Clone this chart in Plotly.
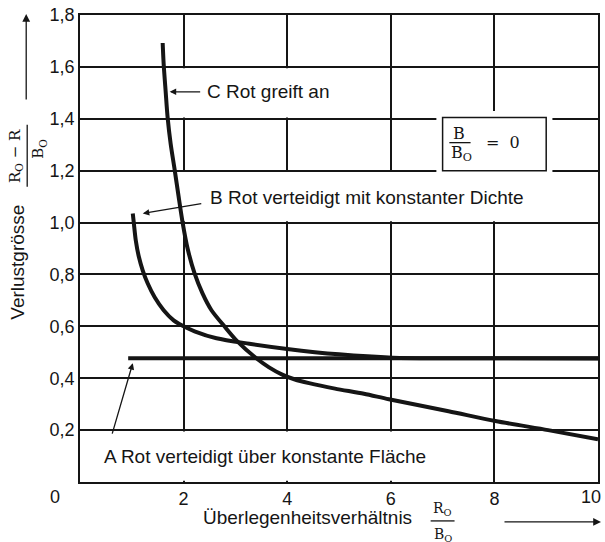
import plotly.graph_objects as go

# ---- data ----
a_x = [0.93, 10.0]
a_y = [0.477, 0.477]

b_x = [1.019, 1.038, 1.077, 1.135, 1.212, 1.308, 1.442, 1.615, 1.808, 1.981, 2.212, 2.635, 3.269, 4.00, 5.00, 6.038, 7.115, 10.0]
b_y = [1.035, 1.000, 0.931, 0.869, 0.815, 0.765, 0.712, 0.662, 0.623, 0.602, 0.581, 0.554, 0.533, 0.513, 0.492, 0.479, 0.477, 0.476]

c_x = [1.596, 1.615, 1.654, 1.692, 1.750, 1.827, 1.904, 1.981, 2.077, 2.212, 2.365, 2.538, 2.788, 3.038, 3.404, 3.650, 3.904, 4.150, 4.423, 4.923, 5.481, 5.962, 7.115, 8.019, 9.038, 10.0]
c_y = [1.692, 1.612, 1.504, 1.404, 1.304, 1.204, 1.100, 1.000, 0.900, 0.804, 0.727, 0.662, 0.600, 0.542, 0.477, 0.442, 0.414, 0.395, 0.381, 0.360, 0.340, 0.319, 0.273, 0.235, 0.200, 0.165]

x_ticks = [2, 4, 6, 8, 10]
x_labels = ["2", "4", "6", "8", ""]
y_ticks = [0.2, 0.4, 0.6, 0.8, 1.0, 1.2, 1.4, 1.6, 1.8]
y_labels = ["0,2", "0,4", "0,6", "0,8", "1,0", "1,2", "1,4", "1,6", "1,8"]

label_a = "A Rot verteidigt über konstante Fläche"
label_b = "B Rot verteidigt mit konstanter Dichte"
label_c = "C Rot greift an"

INK = "#151515"
SANS = "Liberation Sans, Arial, sans-serif"
SERIF = "DejaVu Serif, serif"

fig = go.Figure()
for xs, ys in [(a_x, a_y), (b_x, b_y), (c_x, c_y)]:
    fig.add_trace(go.Scatter(x=xs, y=ys, mode="lines",
                             line=dict(color=INK, width=4, shape="spline", smoothing=0.8),
                             hoverinfo="skip", showlegend=False))

# white masks that interrupt the grid behind labels
masks = [
    (1.80, 5.50, 1.405, 1.595),
    (1.95, 9.97, 1.005, 1.195),
    (0.03, 7.50, 0.005, 0.195),
    (6.88, 9.12, 1.195, 1.43),
]
for x0, x1, y0, y1 in masks:
    fig.add_shape(type="rect", x0=x0, x1=x1, y0=y0, y1=y1, xref="x", yref="y",
                  fillcolor="white", line=dict(width=0), layer="between")
# boxed legend B/B0 = 0
fig.add_shape(type="rect", x0=7.0, x1=9.0, y0=1.2, y1=1.405, xref="x", yref="y",
              fillcolor="white", line=dict(color=INK, width=1.5), layer="between")

ann = []
def txt(x, y, t, xref="x", yref="y", xa="left", ya="middle", size=19, font=SANS, angle=0):
    ann.append(dict(x=x, y=y, xref=xref, yref=yref, text=t, showarrow=False,
                    xanchor=xa, yanchor=ya, textangle=angle,
                    font=dict(family=font, size=size, color=INK)))

def arrow(x, y, ax, ay, xref="x", yref="y", size=1.0):
    ann.append(dict(x=x, y=y, xref=xref, yref=yref, text="", showarrow=True,
                    ax=ax, ay=ay, arrowhead=2, arrowsize=size, arrowwidth=1.3,
                    arrowcolor=INK, standoff=0, startstandoff=0))

# curve labels
txt(2.404, 1.504, label_c)
arrow(1.731, 1.504, 32, 0)
txt(2.462, 1.096, label_b)
arrow(1.212, 1.035, 60, -10)
txt(0.423, 0.100, label_a)
arrow(1.019, 0.458, -21, 72)

# box text
txt(7.32, 1.345, "B", xa="center", font=SERIF, size=16)
txt(7.36, 1.265, "B<sub>O</sub>", xa="center", font=SERIF, size=16)
fig.add_shape(type="line", x0=7.13, x1=7.54, y0=1.308, y1=1.308, xref="x", yref="y",
              line=dict(color=INK, width=1.3))
txt(8.16, 1.31, "=  0", xa="center", font=SERIF, size=16)

def px_x(p):
    return (p - 80) / 520
def px_y(p):
    return (482 - p) / 468

# origin "0" and the shifted "10"
txt(px_x(55), px_y(497), "0", xref="paper", yref="paper", xa="center", size=18)
txt(px_x(593), px_y(497), "10", xref="paper", yref="paper", xa="center", size=18)

# y-axis title
txt(px_x(17), px_y(262), "Verlustgrösse", xref="paper", yref="paper", xa="center", angle=-90)
txt(px_x(15), px_y(155), "R<sub>O</sub> − R", xref="paper", yref="paper", xa="center",
    font=SERIF, size=15, angle=-90)
txt(px_x(39), px_y(148), "B<sub>O</sub>", xref="paper", yref="paper", xa="center",
    font=SERIF, size=15, angle=-90)
fig.add_shape(type="line", x0=px_x(27), x1=px_x(27), y0=px_y(124), y1=px_y(186),
              xref="paper", yref="paper", line=dict(color=INK, width=1.3))
arrow(px_x(26), px_y(13), 0, 87, xref="paper", yref="paper", size=1.2)

# x-axis title
txt(px_x(201), px_y(518), "Überlegenheitsverhältnis", xref="paper", yref="paper")
txt(px_x(444), px_y(509), "R<sub>O</sub>", xref="paper", yref="paper", xa="center",
    font=SERIF, size=14)
txt(px_x(444), px_y(535), "B<sub>O</sub>", xref="paper", yref="paper", xa="center",
    font=SERIF, size=14)
fig.add_shape(type="line", x0=px_x(432), x1=px_x(456), y0=px_y(521), y1=px_y(521),
              xref="paper", yref="paper", line=dict(color=INK, width=1.3))
arrow(px_x(603), px_y(522), -98, 0, xref="paper", yref="paper", size=1.2)

axis_common = dict(showline=True, linecolor=INK, linewidth=1.7, mirror=True,
                   showgrid=True, gridcolor=INK, gridwidth=1.5, zeroline=False,
                   ticks="", tickfont=dict(family=SANS, size=18, color=INK))

fig.update_layout(
    width=605, height=542,
    margin=dict(l=80, r=5, t=14, b=60),
    paper_bgcolor="white", plot_bgcolor="white",
    xaxis=dict(range=[0, 10], tickvals=x_ticks, ticktext=x_labels, **axis_common),
    yaxis=dict(range=[0, 1.8], tickvals=y_ticks, ticktext=y_labels, **axis_common),
    annotations=ann,
    showlegend=False,
)

fig.write_html("out.html")
